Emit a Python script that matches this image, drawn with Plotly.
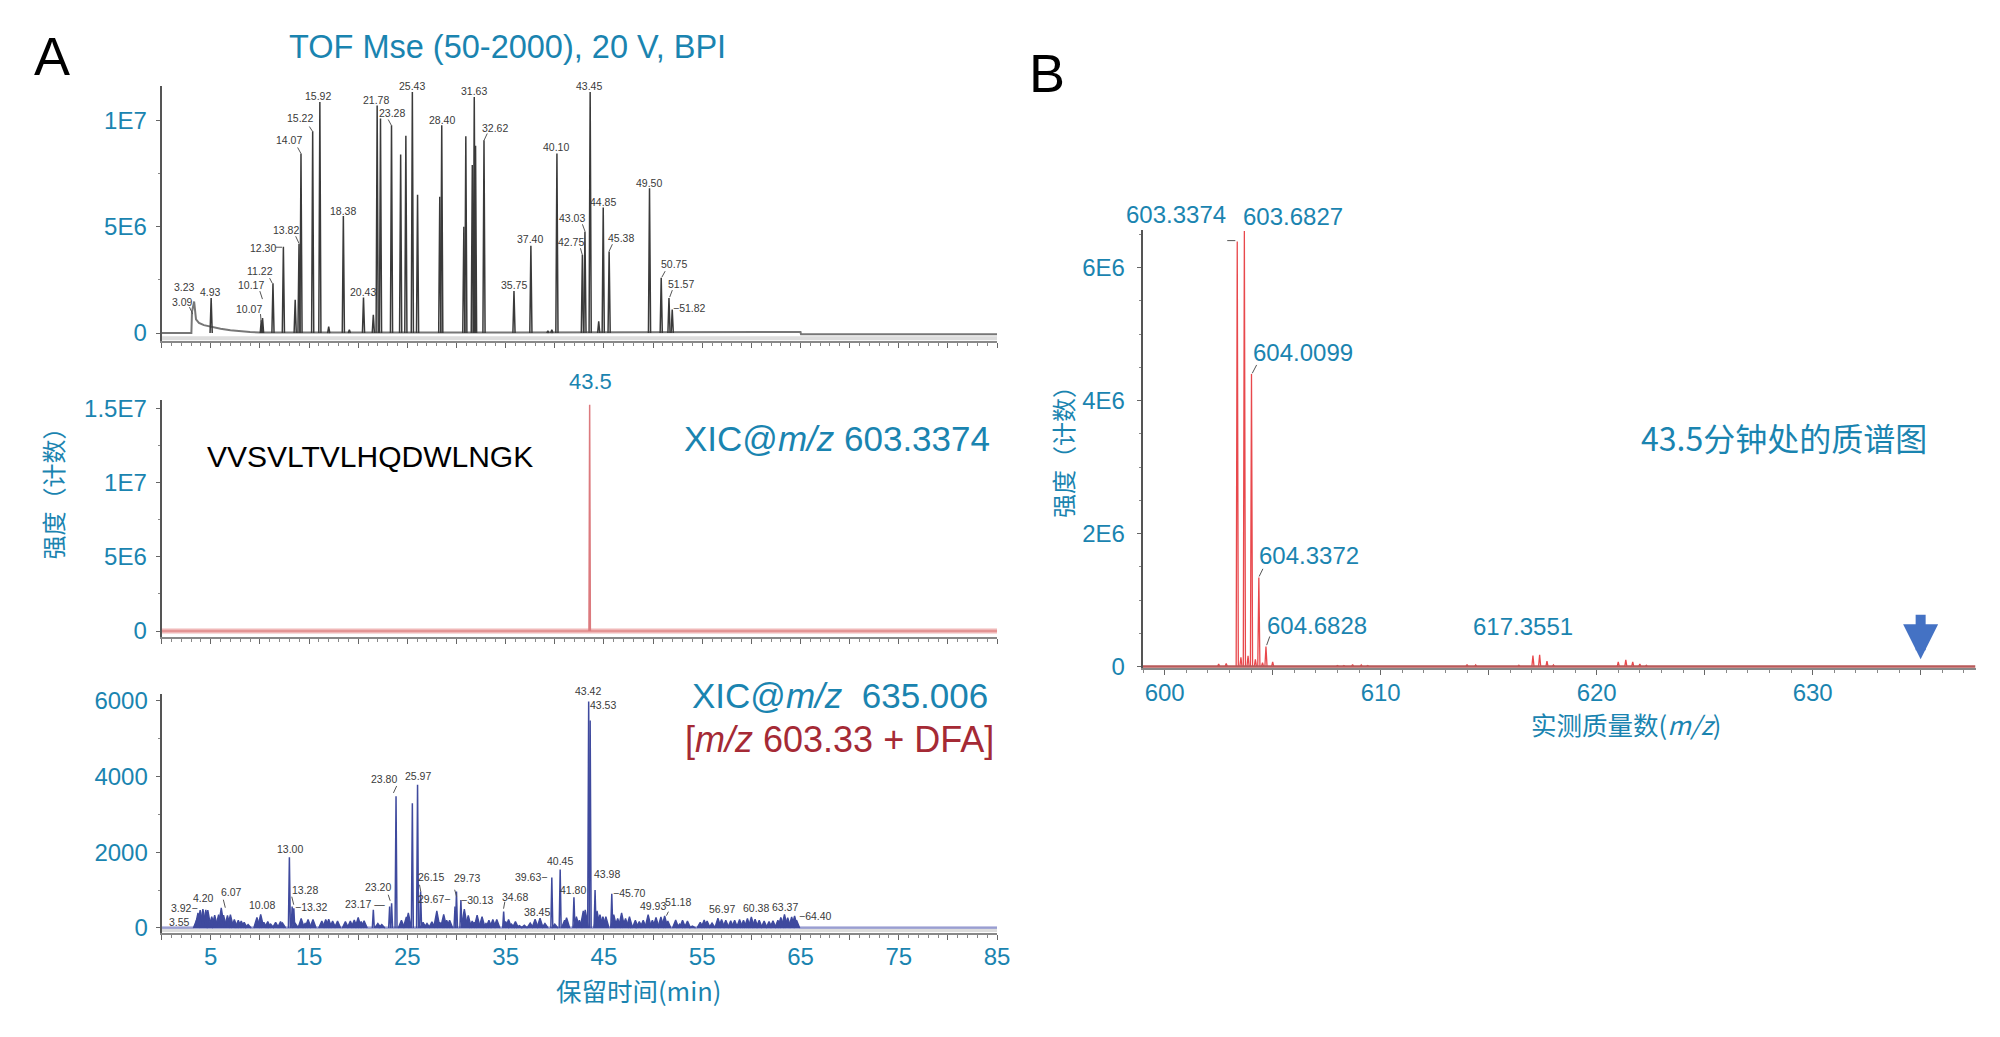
import plotly.graph_objects as go

W = 2000
H = 1037
BLUE = "#1a84b0"
FONT = "Liberation Sans, Noto Sans CJK SC, sans-serif"
CJK = "Noto Sans CJK SC, Liberation Sans, sans-serif"

# panel A top: TOF BPI trace
bpi_tail_t = [0, 3.03, 3.09, 3.31, 3.5, 3.8, 4.3, 5.0, 6.0, 7.0, 8.0, 9.0, 10.0, 12.0, 30.0, 52.5, 65.0, 65.05, 85.0]
bpi_tail_y = [0, 0, 1000000, 1480000, 640000, 480000, 370000, 290000, 200000, 130000, 80000, 50000, 30000, 20000, 20000, 30000, 50000, -60000, -60000]
bpi_rt = [5.04, 10.14, 10.27, 11.33, 12.39, 13.59, 13.98, 14.18, 15.37, 16.10, 17.0, 18.49, 19.1, 20.54, 21.54, 21.93,
          22.27, 23.39, 24.32, 24.85, 25.51, 26.04, 28.30, 28.50, 30.75, 30.95, 31.61, 31.81, 31.94, 32.80, 35.85, 37.57,
          39.3, 39.7, 40.22, 42.81, 43.07, 43.60, 44.47, 44.93, 45.53, 49.64, 50.83, 51.62, 51.95]
bpi_h = [1640000, 600000, 700000, 2340000, 4060000, 1560000, 4200000, 8440000, 9480000, 10860000, 300000, 5500000, 150000,
         1670000, 860000, 10700000, 10080000, 9770000, 8390000, 9270000, 11330000, 6500000, 6400000, 9770000, 5000000,
         9250000, 7900000, 11100000, 8800000, 9060000, 1980000, 4100000, 100000, 150000, 8440000, 3670000, 4770000,
         11330000, 550000, 5900000, 3830000, 6800000, 2600000, 1640000, 1100000]
bpi_labels = ["3.23", "3.09", "4.93", "10.07", "10.17", "11.22", "12.30", "13.82", "14.07", "15.22", "15.92", "18.38",
              "20.43", "21.78", "23.28", "25.43", "28.40", "31.63", "32.62", "35.75", "37.40", "40.10", "42.75", "43.03",
              "43.45", "44.85", "45.38", "49.50", "50.75", "51.57", "−51.82"]

# panel A middle: XIC 603.3374
xic1_rt = [43.55]
xic1_h = [15270000]

# panel A bottom: XIC 635.006, tall peaks and the low grass under them
xic2_rt = [13.0, 13.28, 13.45, 21.54, 23.2, 23.4, 23.85, 25.51, 26.04, 26.35, 29.85, 30.0, 30.45, 34.8, 39.7, 40.55, 41.95,
           43.45, 43.6, 44.1, 45.8]
xic2_h = [1870, 565, 520, 480, 565, 650, 3480, 3290, 3785, 960, 565, 960, 740, 435, 1330, 1540, 810, 5980, 5480, 1000, 900]
grass_t = [3.55, 3.7, 3.92, 4.2, 4.5, 4.7, 4.9, 5.1, 5.4, 5.8, 6.07, 6.3, 6.7, 7.0, 7.2, 7.4, 7.8, 8.1, 8.4, 8.8, 9.7, 10.08,
           10.4, 10.8, 11.1, 11.6, 12.1, 12.3, 13.6, 14.2, 14.6, 14.9, 15.4, 16.3, 16.7, 17.0, 17.4, 17.9, 18.7, 19.2, 19.6,
           20.0, 20.3, 20.6, 22.0, 22.4, 24.4, 24.9, 25.1, 26.6, 27.0, 27.5, 28.0, 28.3, 28.7, 29.0, 29.3, 30.8, 31.2, 31.6,
           31.8, 32.1, 32.6, 33.0, 33.3, 33.7, 34.1, 35.0, 35.3, 35.6, 36.0, 36.4, 36.9, 37.5, 38.0, 38.5, 39.0, 40.0, 41.0,
           41.2, 42.2, 42.5, 42.9, 43.1, 44.3, 44.6, 44.9, 45.2, 46.0, 46.4, 46.8, 47.2, 47.6, 48.0, 48.2, 48.6, 49.0, 49.5,
           49.93, 50.3, 50.8, 51.18, 51.5, 52.3, 52.7, 53.0, 53.5, 54.0, 54.8, 55.2, 55.5, 56.0, 56.6, 56.97, 57.4, 57.9,
           58.3, 58.8, 59.2, 59.6, 60.0, 60.38, 60.8, 61.3, 61.8, 62.2, 62.7, 63.0, 63.37, 63.7, 64.1, 64.4, 64.6]
grass_h = [200, 400, 470, 500, 480, 470, 100, 300, 340, 350, 530, 340, 330, 350, 120, 220, 200, 180, 150, 90, 280, 360,
           150, 170, 100, 150, 170, 130, 120, 250, 120, 220, 220, 180, 220, 230, 180, 180, 170, 180, 210,
           280, 170, 190, 120, 90, 200, 290, 400, 150, 120, 160, 450, 150, 360, 200, 200, 500, 330, 180,
           150, 340, 300, 120, 200, 220, 220, 170, 220, 100, 170, 60, 70, 130, 230, 260, 120, 100, 200,
           270, 300, 200, 450, 480, 450, 350, 300, 300, 350, 250, 400, 250, 300, 60, 200, 170, 200, 350,
           200, 280, 290, 320, 180, 210, 100, 200, 180, 50, 150, 210, 180, 130, 260, 220, 200, 190,
           200, 220, 200, 250, 290, 230, 200, 180, 170, 190, 200, 280, 360, 270, 290, 320, 200]
xic2_labels = ["3.55", "3.92−", "4.20", "6.07", "10.08", "13.00", "13.28", "−13.32", "23.17 —", "23.20", "23.80", "25.97",
               "26.15", "29.67−", "29.73", "−30.13", "34.68", "38.45", "39.63−", "40.45", "41.80", "43.42", "43.53", "43.98",
               "−45.70", "49.93", "51.18", "56.97", "60.38", "63.37", "−64.40"]

# panel B: spectrum at 43.5 min
ms_mz = [602.5, 602.85, 603.36, 603.53, 603.69, 603.86, 604.02, 604.2, 604.36, 604.53, 604.69, 605.0, 608.0, 608.3, 608.7,
         609.1, 609.4, 614.0, 614.4, 616.4, 617.05, 617.36, 617.7, 618.0, 621.0, 621.35, 621.67, 622.0, 622.3]
ms_i = [40000, 45000, 6390000, 140000, 6550000, 160000, 4400000, 110000, 1340000, 60000, 300000, 70000, 15000, 15000, 30000,
        25000, 15000, 30000, 25000, 20000, 165000, 175000, 80000, 25000, 70000, 100000, 70000, 40000, 20000]
ms_labels = ["603.3374", "603.6827", "604.0099", "604.3372", "604.6828", "617.3551"]

# axis ticks
rt_ticks = [0, 5, 10, 15, 20, 25, 30, 35, 40, 45, 50, 55, 60, 65, 70, 75, 80, 85]
rt_text = ["", "5", "", "15", "", "25", "", "35", "", "45", "", "55", "", "65", "", "75", "", "85"]
mz_ticks = [600, 605, 610, 615, 620, 625, 630, 635]
mz_text = ["600", "", "610", "", "620", "", "630", ""]


def sticks(t, h, w):
    xs, ys = [], []
    for a, b in zip(t, h):
        xs += [a - w, a, a + w, None]
        ys += [0, b, 0, None]
    return xs, ys


# small correction from measured page pixels to where the photo puts them
def fx(x):
    return 1.0035 * x + 0.5


def fy(y):
    return 1.0163 * y - 5.3


def dom_x(a, b):
    return [fx(a) / W, fx(b) / W]


def dom_y(top, bottom):
    return [1 - fy(bottom) / H, 1 - fy(top) / H]


fig = go.Figure()

# BPI
fig.add_trace(go.Scatter(x=[0, 85], y=[-250000, -250000], mode="lines", line=dict(color="#dddddd", width=4), xaxis="x", yaxis="y"))
fig.add_trace(go.Scatter(x=bpi_tail_t, y=bpi_tail_y, mode="lines", line=dict(color="#777777", width=2), xaxis="x", yaxis="y"))
xs, ys = sticks(bpi_rt, bpi_h, 0.11)
fig.add_trace(go.Scatter(x=xs, y=ys, mode="lines", line=dict(color="#3a3a3a", width=1.5), xaxis="x", yaxis="y"))

# XIC 603
fig.add_trace(go.Scatter(x=[0, 85], y=[0, 0], mode="lines", line=dict(color="#f0b8b8", width=5), xaxis="x2", yaxis="y2"))
fig.add_trace(go.Scatter(x=[0, 85], y=[0, 0], mode="lines", line=dict(color="#d87070", width=1), xaxis="x2", yaxis="y2"))
xs, ys = sticks(xic1_rt, xic1_h, 0.07)
fig.add_trace(go.Scatter(x=xs, y=ys, mode="lines", line=dict(color="#dc7a7e", width=1.5), xaxis="x2", yaxis="y2"))

# XIC 635
fig.add_trace(go.Scatter(x=[0, 85], y=[0, 0], mode="lines", line=dict(color="#c4c6e6", width=4), xaxis="x3", yaxis="y3"))
fig.add_trace(go.Scatter(x=[0, 85], y=[0, 0], mode="lines", line=dict(color="#7a80c0", width=1), xaxis="x3", yaxis="y3"))
fig.add_trace(go.Scatter(x=[0, 85], y=[-70, -70], mode="lines", line=dict(color="#dddddd", width=3), xaxis="x3", yaxis="y3"))
xs, ys = sticks(grass_t, grass_h, 0.32)
fig.add_trace(go.Scatter(x=xs, y=ys, mode="lines", line=dict(color="#3f4a9e", width=1.4), fill="tozeroy",
                         fillcolor="#3f4a9e", xaxis="x3", yaxis="y3"))
xs, ys = sticks(xic2_rt, xic2_h, 0.1)
fig.add_trace(go.Scatter(x=xs, y=ys, mode="lines", line=dict(color="#3f4a9e", width=1.5), xaxis="x3", yaxis="y3"))

# spectrum
xs, ys = sticks(ms_mz, ms_i, 0.05)
fig.add_trace(go.Scatter(x=xs, y=ys, mode="lines", line=dict(color="#e8484c", width=1.3), xaxis="x4", yaxis="y4"))
fig.add_trace(go.Scatter(x=[598.98, 637.54], y=[0, 0], mode="lines", line=dict(color="#b85a5a", width=2.5), xaxis="x4", yaxis="y4"))


def xaxis(dom, anchor, rng, vals, text, dtick, size=24):
    return dict(domain=dom, anchor=anchor, range=rng, tickmode="array", tickvals=vals, ticktext=text, ticks="outside",
                ticklen=5, tickwidth=1, tickcolor="#666666", showline=True, linecolor="#888888", linewidth=2,
                showgrid=False, zeroline=False, tickfont=dict(family=FONT, size=size, color=BLUE),
                minor=dict(dtick=dtick, ticks="outside", ticklen=3, tickcolor="#888888"), ticklabelstandoff=-3)


def yaxis(dom, anchor, rng, vals, text, dtick, standoff):
    return dict(domain=dom, anchor=anchor, range=rng, tickmode="array", tickvals=vals, ticktext=text, ticks="outside",
                ticklen=4, tickwidth=1, tickcolor="#666666", showline=True, linecolor="#555555", linewidth=2,
                showgrid=False, zeroline=False, tickfont=dict(family=FONT, size=24, color=BLUE),
                minor=dict(dtick=dtick, ticks="outside", ticklen=2, tickcolor="#888888"), ticklabelstandoff=standoff)


fig.update_layout(
    width=W, height=H, margin=dict(l=0, r=0, t=0, b=0), paper_bgcolor="white", plot_bgcolor="white", showlegend=False,
    xaxis=xaxis(dom_x(161.6, 999.6), "y", [0, 85], rt_ticks, [""] * len(rt_ticks), 1),
    yaxis=yaxis(dom_y(84, 340), "x", [-375000, 11630000], [0, 5000000, 10000000], ["0", "5E6", "1E7"], 2500000, 4),
    xaxis2=xaxis(dom_x(161.6, 999.6), "y2", [0, 85], rt_ticks, [""] * len(rt_ticks), 1),
    yaxis2=yaxis(dom_y(399, 636.7), "x2", [-404000, 15600000], [0, 5000000, 10000000, 15000000], ["0", "5E6", "1E7", "1.5E7"], 2500000, 4),
    xaxis3=xaxis(dom_x(161.6, 999.6), "y3", [0, 85], rt_ticks, rt_text, 1),
    yaxis3=yaxis(dom_y(694.3, 933), "x3", [-124, 6166], [0, 2000, 4000, 6000], ["0", "2000", "4000", "6000"], 1000, 3),
    xaxis4=xaxis(dom_x(1145.6, 1981), "y4", [598.98, 637.54], mz_ticks, mz_text, 1),
    yaxis4=yaxis(dom_y(229, 668), "x4", [-25500, 6560000], [0, 2000000, 4000000, 6000000], ["0", "2E6", "4E6", "6E6"], 500000, 7),
)

anns = []
lines = []


def txt(s, px, py, size, color=BLUE, family=FONT, angle=0):
    anns.append(dict(text=s, x=fx(px) / W, y=1 - fy(py) / H, xref="paper", yref="paper", showarrow=False, xanchor="center",
                     yanchor="middle", textangle=angle, font=dict(family=family, size=size, color=color)))


def leader(x0, y0, x1, y1):
    lines.append(dict(type="line", xref="paper", yref="paper", x0=fx(x0) / W, x1=fx(x1) / W, y0=1 - fy(y0) / H, y1=1 - fy(y1) / H,
                      line=dict(color="#555555", width=1)))


# label centres, measured on the page
bpi_pos = [(283, 287), (280, 302), (323, 292), (382, 309), (384, 285), (399, 271), (403, 248), (438, 230), (442, 140),
           (460, 117), (488, 95), (526, 211), (557, 292), (577, 99), (601, 112), (632, 85), (677, 119), (726, 90), (759, 127),
           (788, 285), (813, 239), (853, 147), (875, 242), (877, 218), (903, 85), (924, 202), (952, 238), (995, 183),
           (1033, 264), (1045, 284), (1058, 308)]
for s, (a, b) in zip(bpi_labels, bpi_pos):
    txt(s, a / 1.53, b - 1, 10.5, "#3a3a3a", "Liberation Sans Narrow, Liberation Sans")

xic2_pos = [(275, 262), (282, 248), (312, 238), (355, 232), (401, 245), (445, 189), (468, 230), (478, 247), (560, 244),
            (579, 227), (589, 119), (640, 116), (661, 217), (665, 239), (716, 218), (732, 240), (790, 237), (824, 252),
            (814, 217), (858, 201), (879, 230), (902, 31), (924, 45), (931, 214), (965, 233), (1002, 246), (1040, 242),
            (1107, 249), (1159, 248), (1204, 247), (1250, 256)]
for s, (a, b) in zip(xic2_labels, xic2_pos):
    txt(s, a / 1.53, 660 + b, 10.5, "#3a3a3a", "Liberation Sans Narrow, Liberation Sans")

ms_pos = [(254, 92), (440, 98), (456, 472), (466, 1028), (478, 1222), (808, 1226)]
for s, (a, b) in zip(ms_labels, ms_pos):
    txt(s, 1020 + a / 1.592, 180 + b / 2.745, 24)

txt("A", 52, 54, 54, "black")
txt("B", 1050, 71, 54, "black")
txt("TOF Mse (50-2000), 20 V, BPI", 509, 45, 32.5)
txt("43.5", 591.5, 381, 22)
txt("VVSVLTVLHQDWLNGK", 371, 456, 30, "black")
txt("XIC@<i>m/z</i> 603.3374", 839, 438, 35)
txt("XIC@<i>m/z</i>\u00a0 635.006", 842, 695, 35)
txt("[<i>m/z</i> 603.33 + DFA]", 842, 739, 36, "#a52a35")
txt("强度（计数）", 52.5, 487, 24, family=CJK, angle=-90)
txt("强度（计数）", 1065, 445, 24, family=CJK, angle=-90)
txt("保留时间(min)", 640, 990, 25.5, family=CJK)
txt("实测质量数(<i>m/z</i>)", 1630, 723, 25.5, family=CJK)
txt("43.5分钟处的质谱图", 1789, 436, 32, family=CJK)

# leader ticks next to the small peak labels
for a, b, c, d in [(474, 127, 479, 132), (456, 148, 461, 154), (453, 237, 458, 244), (422, 248, 432, 248), (413, 279, 417, 284),
                   (398, 292, 402, 300), (399, 315, 400, 323), (290, 308, 295, 315), (595, 120, 600, 126), (747, 134, 742, 141),
                   (893, 225, 897, 232), (890, 249, 893, 256), (939, 245, 934, 252), (1020, 272, 1015, 278), (1031, 291, 1027, 298)]:
    leader(a / 1.53, b - 2, c / 1.53, d - 2)
for a, b, c, d in [(608, 133, 603, 126), (345, 240, 342, 248), (450, 237, 447, 245), (598, 235, 595, 241), (700, 230, 697, 237),
                   (645, 225, 643, 232), (772, 242, 774, 249), (1022, 252, 1025, 256)]:
    leader(c / 1.53, 660 + b, a / 1.53, 660 + d)
for a, b, c, d in [(335, 163, 348, 163), (382, 505, 375, 528), (392, 1066, 386, 1087), (403, 1252, 398, 1276)]:
    leader(1020 + a / 1.592, 180 + b / 2.745, 1020 + c / 1.592, 180 + d / 2.745)

# arrow pointing at m/z 635
anns.append(dict(x=635, y=110000, xref="x4", yref="y4", text="", showarrow=True, ax=0, ay=-46, arrowhead=2, arrowsize=0.7,
                 arrowwidth=10, arrowcolor="#4472c4"))

fig.update_layout(annotations=anns, shapes=lines)
# page body has a default margin, drop it so the figure sits at 0,0
fig.write_html("out.html", config={"displayModeBar": False},
               post_script="document.body.style.margin='0';document.documentElement.style.overflow='hidden';")
